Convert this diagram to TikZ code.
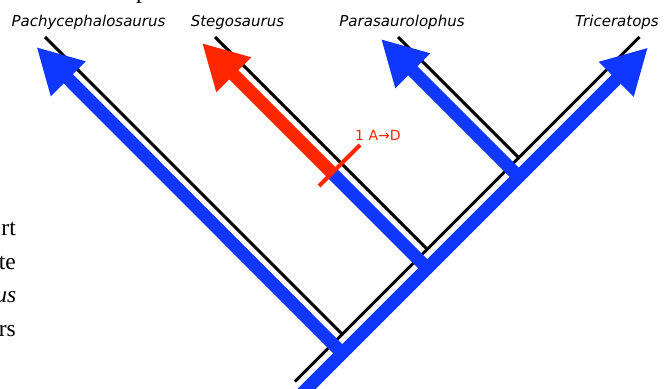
\documentclass[tikz,border=0pt]{standalone}
\usepackage{fontspec}
\setmainfont{Liberation Serif}
\newfontfamily\labelfont{DejaVu Sans}
\usetikzlibrary{arrows.meta}
\definecolor{cladeblue}{RGB}{15,55,255}
\definecolor{cladered}{RGB}{255,38,0}
\begin{document}
\begin{tikzpicture}[x=1pt,y=-1pt,
  branch/.style={line width=3pt,black},
  lineage/.style={line width=13pt,cladeblue},
  tipped/.style={-{Triangle[length=45pt,width=46pt]}},
  taxon/.style={font=\labelfont\itshape\fontsize{15}{18}\selectfont,inner sep=0pt,anchor=base},
  margintext/.style={font=\fontsize{23.5}{28}\selectfont,inner sep=0pt,anchor=base east},
  change/.style={font=\labelfont\fontsize{14}{16}\selectfont,text=cladered,inner sep=0pt,anchor=west},
]
\useasboundingbox (0,0) rectangle (666,388);

% running text of the page beside the figure
\node[margintext,anchor=base west] (pfrag) at (136,-1.6) {p};
\node[margintext] (line1) at (16,235.5) {rt};
\node[margintext] (line2) at (16,269) {te};
\node[margintext] (line3) at (16.5,302.5) {\itshape us};
\node[margintext] (line4) at (16,336) {rs};

% taxon names
\node[taxon] (Lpachy) at (88.5,26) {Pachycephalosaurus};
\node[taxon] (Lstego) at (237.5,26) {Stegosaurus};
\node[taxon] (Lpara)  at (402,26)  {Parasaurolophus};
\node[taxon] (Ltrice) at (617,26)  {Triceratops};

% cladogram
\coordinate (root)  at (295,381.5);
\coordinate (n1)    at (342.25,334.25);
\coordinate (n2)    at (427.25,249.25);
\coordinate (n3)    at (518.75,157.75);
\coordinate (pachy) at (45,37);
\coordinate (stego) at (215,37);
\coordinate (para)  at (398,37);
\coordinate (trice) at (639.5,37);

\draw[branch] (root) -- (trice);
\draw[branch] (n1) -- (pachy);
\draw[branch] (n2) -- (stego);
\draw[branch] (n3) -- (para);

% character state history along the tree
\coordinate (rootb) at (288,407.5);
\coordinate (n1b)   at (342.25,353.25);
\coordinate (n2b)   at (427.25,268.25);
\coordinate (n3b)   at (518.75,176.75);
\coordinate (pachyTip) at (36.5,47);
\coordinate (stegoTip) at (202,43);
\coordinate (paraTip)  at (381,39);
\coordinate (triceTip) at (648,47.5);
\coordinate (cut) at (332,173);

\draw[lineage,tipped] (rootb) -- (triceTip);
\draw[lineage,tipped] (n1b) -- (pachyTip);
\draw[lineage,tipped] (n3b) -- (paraTip);
\draw[lineage] (n2b) -- (cut);
\draw[lineage,tipped,cladered] (cut) -- (stegoTip);

% state change marker
\coordinate (tickA) at (319,186);
\coordinate (tickB) at (360,145);
\draw[line width=4pt,cladered] (tickA) -- (tickB);
\node[change] (Lchange) at (355,135) {1 A→D};
\end{tikzpicture}
\end{document}
